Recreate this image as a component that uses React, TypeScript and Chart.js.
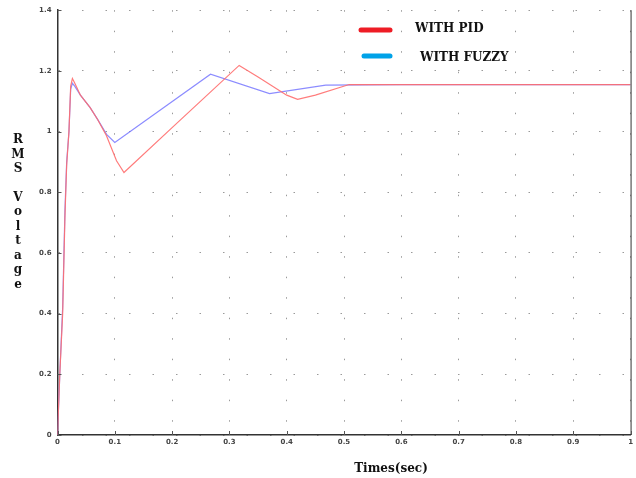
import React, { useEffect, useRef } from "react";
import { Chart, registerables } from "chart.js";

Chart.register(...registerables);

const pidTimes = [0, 0.004, 0.009, 0.013, 0.016, 0.02, 0.023, 0.026, 0.03, 0.04, 0.057, 0.07, 0.0855, 0.103, 0.116, 0.2, 0.317, 0.35, 0.4, 0.419, 0.45, 0.509, 0.6, 0.8, 1.0];
const pidValues = [0, 0.2, 0.4, 0.72, 0.89, 1.0, 1.15, 1.175, 1.16, 1.12, 1.079, 1.04, 0.986, 0.904, 0.865, 1.013, 1.218, 1.18, 1.12, 1.106, 1.12, 1.155, 1.155, 1.155, 1.155];

const fuzzyTimes = [0, 0.004, 0.009, 0.013, 0.016, 0.02, 0.023, 0.026, 0.03, 0.04, 0.057, 0.07, 0.0856, 0.1, 0.267, 0.37, 0.468, 0.6, 0.8, 1.0];
const fuzzyValues = [0, 0.2, 0.42, 0.74, 0.9, 1.0, 1.14, 1.159, 1.15, 1.12, 1.079, 1.04, 0.991, 0.964, 1.189, 1.125, 1.153, 1.155, 1.155, 1.155];

const xTicks = [0, 0.1, 0.2, 0.3, 0.4, 0.5, 0.6, 0.7, 0.8, 0.9, 1];
const yTicks = [0, 0.2, 0.4, 0.6, 0.8, 1, 1.2, 1.4];
const legendLabels = ["WITH PID", "WITH FUZZY"];
const xTitle = "Times(sec)";
const yTitle = "RMS Voltage";

const decorPlugin = {
  id: "decor",
  afterDraw(chart: any) {
    const ctx = chart.ctx;
    const a = chart.chartArea;
    ctx.save();
    // right border
    ctx.strokeStyle = "#333";
    ctx.lineWidth = 1;
    ctx.beginPath();
    ctx.moveTo(a.right + 0.5, a.top);
    ctx.lineTo(a.right + 0.5, a.bottom);
    ctx.stroke();
    // small inward tick marks
    ctx.strokeStyle = "#555";
    const xs = chart.scales.x;
    const ys = chart.scales.y;
    for (const v of xTicks) {
      const px = Math.round(xs.getPixelForValue(v)) + 0.5;
      ctx.beginPath();
      ctx.moveTo(px, a.bottom);
      ctx.lineTo(px, a.bottom - 4);
      ctx.stroke();
    }
    for (const v of yTicks) {
      const py = Math.round(ys.getPixelForValue(v)) + 0.5;
      ctx.beginPath();
      ctx.moveTo(a.left, py);
      ctx.lineTo(a.left + 4, py);
      ctx.stroke();
    }
    // legend
    ctx.lineCap = "round";
    ctx.lineWidth = 5;
    ctx.strokeStyle = "#ee1c25";
    ctx.beginPath();
    ctx.moveTo(361, 30);
    ctx.lineTo(390, 30);
    ctx.stroke();
    ctx.strokeStyle = "#00a2e8";
    ctx.beginPath();
    ctx.moveTo(364, 56);
    ctx.lineTo(390, 56);
    ctx.stroke();
    ctx.fillStyle = "#111";
    ctx.font = "bold 12px 'DejaVu Serif', serif";
    ctx.textBaseline = "middle";
    ctx.textAlign = "left";
    ctx.fillText(legendLabels[0], 415, 29);
    ctx.fillText(legendLabels[1], 420, 58);
    // x title
    ctx.font = "bold 12px 'DejaVu Serif', serif";
    ctx.textAlign = "center";
    ctx.fillText(xTitle, 391, 469);
    // y title (stacked letters)
    ctx.font = "bold 12px 'DejaVu Serif', serif";
    const letters = yTitle.split("");
    let y = 140;
    for (const ch of letters) {
      if (ch === " ") {
        y += 14;
        continue;
      }
      ctx.fillText(ch, 18, y);
      y += 14.5;
    }
    ctx.restore();
  },
};

export default function App() {
  const ref = useRef<HTMLCanvasElement>(null);
  useEffect(() => {
    const canvas = ref.current!;
    const chart = new Chart(canvas, {
      type: "line",
      data: {
        datasets: [
          {
            label: legendLabels[0],
            data: pidTimes.map((t, i) => ({ x: t, y: pidValues[i] })),
            borderColor: "rgba(255,110,110,0.9)",
            borderWidth: 1.2,
            pointRadius: 0,
            tension: 0,
          },
          {
            label: legendLabels[1],
            data: fuzzyTimes.map((t, i) => ({ x: t, y: fuzzyValues[i] })),
            borderColor: "rgba(120,120,255,0.85)",
            borderWidth: 1.2,
            pointRadius: 0,
            tension: 0,
          },
        ],
      },
      options: {
        responsive: false,
        animation: false,
        layout: { padding: { top: 9, right: 2, left: 0, bottom: 0 } },
        plugins: { legend: { display: false }, tooltip: { enabled: false } },
        scales: {
          x: {
            type: "linear",
            min: 0,
            max: 1,
            afterFit: (s: any) => {
              s.height = 43;
            },
            afterBuildTicks: (s: any) => {
              s.ticks = xTicks.map((v) => ({ value: v }));
            },
            ticks: {
              font: { size: 7, family: "'DejaVu Sans', sans-serif", weight: "bold" },
              color: "#444",
              maxRotation: 0,
              padding: 3,
              callback: (v: any) => String(v),
            },
            grid: { color: "#9a9a9a", lineWidth: 1, drawTicks: false },
            border: { color: "#333", width: 1.5, dash: [1.5, 19] },
          },
          y: {
            type: "linear",
            min: 0,
            max: 1.4,
            afterFit: (s: any) => {
              s.width = 57.5;
            },
            afterBuildTicks: (s: any) => {
              s.ticks = yTicks.map((v) => ({ value: v }));
            },
            ticks: {
              font: { size: 7, family: "'DejaVu Sans', sans-serif", weight: "bold" },
              color: "#444",
              padding: 6,
              callback: (v: any) => String(v),
            },
            grid: { color: "#9a9a9a", lineWidth: 1, drawTicks: false },
            border: { color: "#333", width: 1.5, dash: [1.5, 22] },
          },
        },
      },
      plugins: [decorPlugin],
    });
    return () => chart.destroy();
  }, []);
  return (
    <div style={{ position: "absolute", left: 0, top: 0, width: 636, height: 478, background: "#fff" }}>
      <canvas ref={ref} width={636} height={478} style={{ display: "block" }} />
    </div>
  );
}
